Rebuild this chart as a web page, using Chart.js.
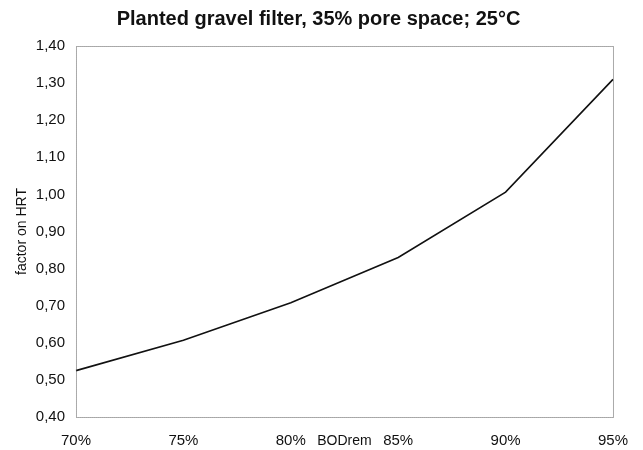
<!DOCTYPE html>
<html>
<head>
<meta charset="utf-8">
<script src="https://cdn.jsdelivr.net/npm/chart.js@4"></script>
<style>
  html, body { margin: 0; padding: 0; background: #fff; }
  #wrap { width: 643px; height: 450px; }
</style>
</head>
<body>
<div id="wrap"><canvas id="lineChart"></canvas></div>
<script>
var bodRem = ['70%', '75%', '80%', '85%', '90%', '95%'];
var factorHRT = [0.525, 0.607, 0.708, 0.830, 1.006, 1.310];
var yMin = 0.40, yMax = 1.40, yStep = 0.10;
var xTitle = 'BODrem';

// dotted frame round the plot area, and the x title sitting in the tick row
var frame = {
    id: 'frame',
    afterDraw: function (chart) {
        var a = chart.chartArea, ctx = chart.ctx;
        ctx.save();
        ctx.strokeStyle = '#555';
        ctx.lineWidth = 1;
        ctx.setLineDash([1, 1]);
        ctx.strokeRect(a.left + 0.5, a.top + 0.5, a.right - a.left, a.bottom - a.top);
        ctx.setLineDash([]);
        ctx.fillStyle = '#111';
        ctx.font = '14px "Liberation Sans"';
        ctx.textAlign = 'center';
        ctx.textBaseline = 'middle';
        ctx.fillText(xTitle, (a.left + a.right) / 2, a.bottom + 24);
        ctx.restore();
    }
};

document.addEventListener("DOMContentLoaded", () => {
    new Chart(document.querySelector('#lineChart'), {
        type: 'line',
        data: {
            labels: bodRem,
            datasets: [{
                label: 'factor on HRT',
                data: factorHRT,
                fill: false,
                borderColor: '#111',
                borderWidth: 1.6,
                pointRadius: 0,
                tension: 0
            }]
        },
        options: {
            responsive: true,
            maintainAspectRatio: false,
            animation: false,
            layout: { padding: { left: 8, right: 14, top: 2, bottom: -15 } },
            plugins: {
                legend: { display: false },
                tooltip: { enabled: false },
                title: {
                    display: true,
                    text: 'Planted gravel filter, 35% pore space; 25°C',
                    color: '#111',
                    font: { family: 'Liberation Sans', size: 20, weight: 'bold' },
                    padding: { top: 5, bottom: 15 }
                }
            },
            scales: {
                x: {
                    offset: false,
                    grid: { display: false, drawTicks: false },
                    border: { display: false },
                    ticks: {
                        color: '#111',
                        font: { family: 'Liberation Sans', size: 15 },
                        padding: 15,
                        maxRotation: 0
                    }
                },
                y: {
                    min: yMin,
                    max: yMax,
                    grid: { display: false, drawTicks: false },
                    border: { display: false },
                    ticks: {
                        stepSize: yStep,
                        color: '#111',
                        font: { family: 'Liberation Sans', size: 15 },
                        padding: 11,
                        callback: function (v) { return v.toFixed(2).replace('.', ','); }
                    },
                    title: {
                        display: true,
                        text: 'factor on HRT',
                        color: '#111',
                        font: { family: 'Liberation Sans', size: 14 },
                        padding: { top: 6, bottom: -6 }
                    }
                }
            }
        },
        plugins: [frame]
    });
});
</script>
</body>
</html>
